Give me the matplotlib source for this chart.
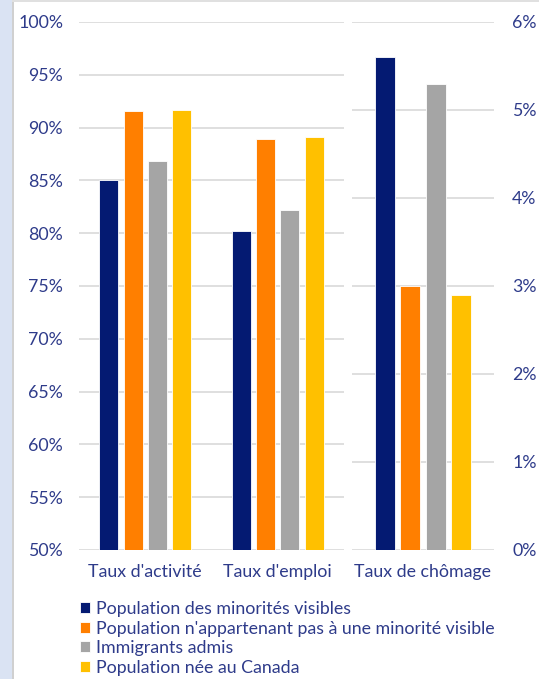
import matplotlib.pyplot as plt
from matplotlib.patches import Rectangle
from matplotlib.ticker import FuncFormatter

plt.rcParams['font.family'] = ['Lato', 'DejaVu Sans']

series = [
    "Population des minorités visibles",
    "Population n'appartenant pas à une minorité visible",
    "Immigrants admis",
    "Population née au Canada",
]
colors = ['#041a72', '#ff7f00', '#a5a5a5', '#ffc000']

# taux d'activité, taux d'emploi (axe de gauche, %)
left_groups = ["Taux d'activité", "Taux d'emploi"]
left_values = [
    [85.0, 80.2],
    [91.6, 88.9],
    [86.8, 82.2],
    [91.7, 89.1],
]
# taux de chômage (axe de droite, %)
right_groups = ["Taux de chômage"]
right_values = [[5.6], [3.0], [5.3], [2.9]]

txt = '#2e3b8a'
fs = 12.8
W, H = 539, 679
fig = plt.figure(figsize=(W / 100, H / 100), dpi=100)
fig.patch.set_facecolor('white')
fig.add_artist(Rectangle((0, 0), 12 / W, 1, transform=fig.transFigure,
                         facecolor='#dae3f3', edgecolor='none'))
fig.add_artist(Rectangle((12 / W, 0), 1.5 / W, 1, transform=fig.transFigure,
                         facecolor='#d0d0d0', edgecolor='none'))
fig.add_artist(Rectangle((12 / W, 1 - 2 / H), 1, 2 / H, transform=fig.transFigure,
                         facecolor='#e0e0e0', edgecolor='none'))


def ax_rect(x0, x1, y0, y1):
    return [x0 / W, 1 - y1 / H, (x1 - x0) / W, (y1 - y0) / H]


axl = fig.add_axes(ax_rect(79, 344, 22, 550))
axr = fig.add_axes(ax_rect(352, 494, 22, 550))

width = 0.143
step = 0.184
for i, (vals, c) in enumerate(zip(left_values, colors)):
    xs = [g + (i - 1.5) * step for g in range(len(left_groups))]
    axl.bar(xs, [v - 50 for v in vals], bottom=50, width=width, color=c,
            edgecolor='white', linewidth=0.6, zorder=3, label=series[i])
axl.set_ylim(50, 100)
axl.set_xlim(-0.5, 1.5)
axl.set_yticks(range(50, 101, 5))
axl.yaxis.set_major_formatter(FuncFormatter(lambda v, p: f'{v:.0f}%'))
axl.set_xticks(range(len(left_groups)))
axl.set_xticklabels(left_groups)

rw = 0.14
rstep = 0.18
for i, (vals, c) in enumerate(zip(right_values, colors)):
    xs = [g + (i - 1.5) * rstep for g in range(len(right_groups))]
    axr.bar(xs, vals, width=rw, color=c, edgecolor='white', linewidth=0.6, zorder=3)
axr.set_ylim(0, 6)
axr.set_xlim(-0.5, 0.5)
axr.set_yticks(range(0, 7))
axr.yaxis.set_major_formatter(FuncFormatter(lambda v, p: f'{v:.0f}%'))
axr.yaxis.tick_right()
axr.set_xticks(range(len(right_groups)))
axr.set_xticklabels(right_groups)

for ax in (axl, axr):
    for s in ax.spines.values():
        s.set_visible(False)
    ax.grid(axis='y', color='#d9d9d9', linewidth=1.2, zorder=0)
    ax.tick_params(length=0, colors=txt, labelsize=fs)
    ax.tick_params(axis='x', pad=10)
axl.tick_params(axis='y', pad=11.5)
axr.tick_params(axis='y', pad=13)

fig.legend(loc='upper left', bbox_to_anchor=(80 / W, 1 - 601 / H),
           frameon=False, fontsize=fs, labelcolor=txt, handlelength=0.55,
           handleheight=0.55, handletextpad=0.35, labelspacing=0.2,
           borderaxespad=0, borderpad=0)

fig.savefig('out.png', dpi=100)
